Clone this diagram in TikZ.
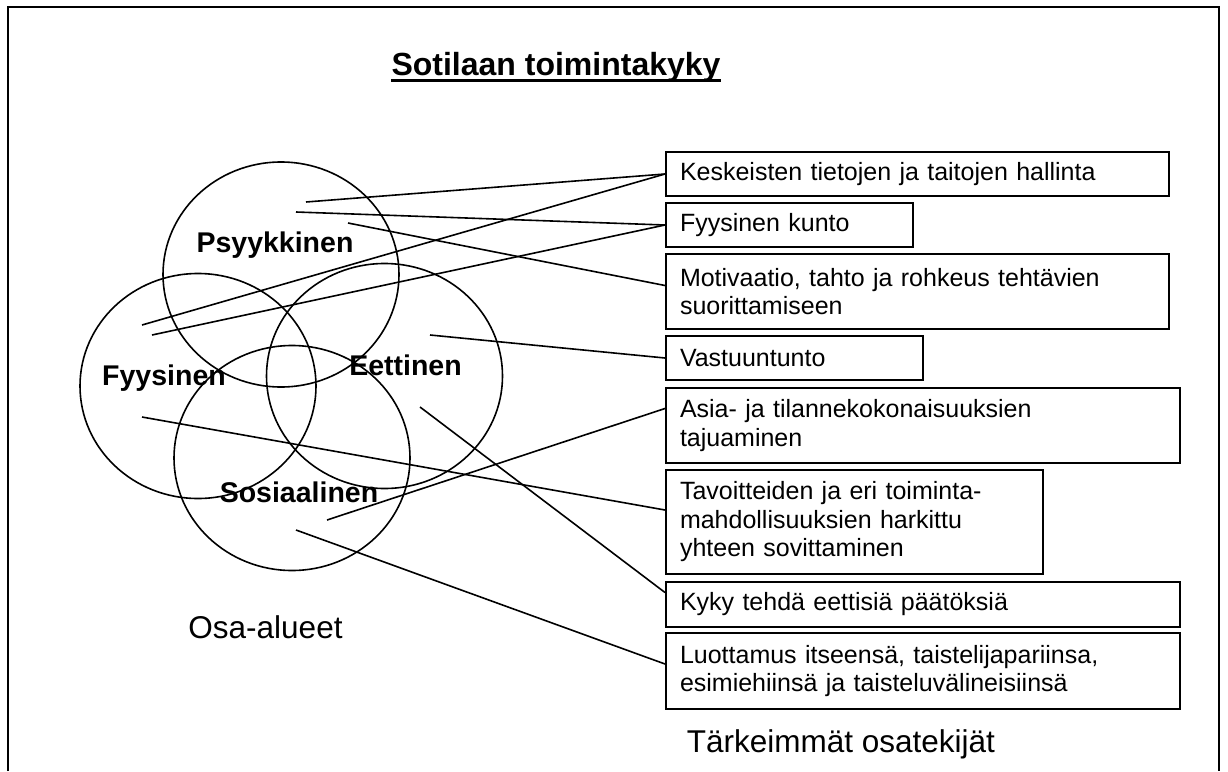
\documentclass[tikz,border=0pt]{standalone}
\usepackage{fontspec}
\setmainfont{Liberation Sans}
\usetikzlibrary{shapes.geometric}

\tikzset{
  area/.style={ellipse, draw, line width=1.6pt, minimum width=236pt, minimum height=225pt, inner sep=0pt},
  areaname/.style={anchor=base, inner sep=0pt, font=\fontsize{28.5}{34}\selectfont\bfseries},
  factor/.style={draw, line width=2pt, anchor=north west, inner xsep=14pt, inner ysep=2pt, align=left, font=\fontsize{25}{28.5}\selectfont},
  caption/.style={anchor=base, inner sep=0pt, font=\fontsize{31.5}{38}\selectfont},
  link/.style={line width=1.6pt}
}

\begin{document}
\begin{tikzpicture}[x=1pt, y=-1pt]

    \useasboundingbox (0,0) rectangle (1228,771);
    \draw [line width=2.2pt] (8,771) -- (8,7) -- (1219,7) -- (1219,771);

    \node [anchor=base, inner sep=0pt, font=\fontsize{32}{38}\selectfont\bfseries] (title) at (556,75) {Sotilaan toimintakyky};
    \draw [line width=3pt] ([yshift=-5.5pt]title.base west) -- ([yshift=-5.5pt]title.base east);

    \node [area] (psyring) at (281,274.5) {};
    \node [area] (fyyring) at (198,386) {};
    \node [area] (eetring) at (384.5,376) {};
    \node [area] (sosring) at (292,458) {};

    \node [areaname] (psy) at (275,252) {Psyykkinen};
    \node [areaname] (fyy) at (164,385) {Fyysinen};
    \node [areaname] (eet) at (405.5,375) {Eettinen};
    \node [areaname] (sos) at (299,502) {Sosiaalinen};

    \node [factor, text width=475pt, minimum height=44pt] (kesk) at (665,151) {Keskeisten tietojen ja taitojen hallinta};
    \node [factor, text width=218.5pt, minimum height=44pt] (kunto) at (665,202) {Fyysinen kunto};
    \node [factor, text width=475pt, minimum height=75pt] (moti) at (665,253) {Motivaatio, tahto ja rohkeus tehtävien\\suorittamiseen};
    \node [factor, text width=228.5pt, minimum height=44pt] (vast) at (665,335) {Vastuuntunto};
    \node [factor, text width=486pt, minimum height=75pt] (asia) at (665,387) {Asia- ja tilannekokonaisuuksien\\tajuaminen};
    \node [factor, text width=349pt, minimum height=104pt] (tavo) at (665,469) {Tavoitteiden ja eri toiminta-\\mahdollisuuksien harkittu\\yhteen sovittaminen};
    \node [factor, text width=486pt, minimum height=45pt] (kyky) at (665,581) {Kyky tehdä eettisiä päätöksiä};
    \node [factor, text width=486pt, minimum height=76pt] (luot) at (665,632) {Luottamus itseensä, taistelijapariinsa,\\esimiehiinsä ja taisteluvälineisiinsä};

    \coordinate (psyA) at (306,202);
    \coordinate (psyB) at (296,212);
    \coordinate (psyC) at (348,223);
    \coordinate (fyyA) at (142,325);
    \coordinate (fyyB) at (152,335);
    \coordinate (fyyC) at (142,417);
    \coordinate (eetA) at (430,335);
    \coordinate (eetB) at (420,407);
    \coordinate (sosA) at (327,520);
    \coordinate (sosB) at (296,530);

    \draw [link] (psyA) -- (kesk.west);
    \draw [link] (psyB) -- (kunto.west);
    \draw [link] (psyC) -- ([yshift=6pt]moti.west);
    \draw [link] (fyyA) -- (kesk.west);
    \draw [link] (fyyB) -- (kunto.west);
    \draw [link] (eetA) -- (vast.west);
    \draw [link] (sosA) -- ([yshift=17pt]asia.west);
    \draw [link] (fyyC) -- ([yshift=12pt]tavo.west);
    \draw [link] (eetB) -- ([yshift=12pt]kyky.west);
    \draw [link] (sosB) -- ([yshift=7pt]luot.west);

    \node [caption] (osa) at (265.5,638) {Osa-alueet};
    \node [caption] (tark) at (841,752) {Tärkeimmät osatekijät};

\end{tikzpicture}
\end{document}
